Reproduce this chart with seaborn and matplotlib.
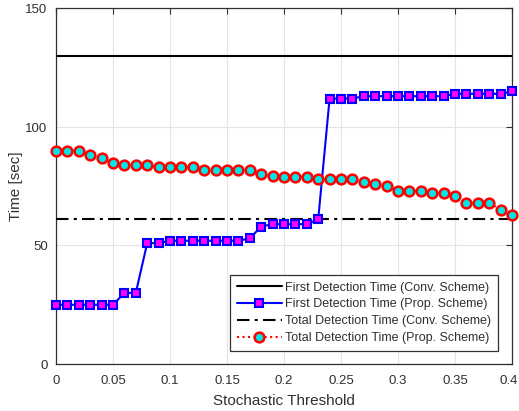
import numpy as np
import pandas as pd
import matplotlib
matplotlib.use("Agg")
import matplotlib.pyplot as plt
import matplotlib.transforms as mtransforms
import seaborn as sns

# Stochastic threshold values (0 to 0.4 in steps of 0.01)
threshold = [round(0.01 * i, 2) for i in range(41)]

# Proposed scheme: first detection time [sec]
first_prop = [25, 25, 25, 25, 25, 25, 30, 30, 51, 51,
              52, 52, 52, 52, 52, 52, 52, 53, 58, 59,
              59, 59, 59, 61, 112, 112, 112, 113, 113, 113,
              113, 113, 113, 113, 113, 114, 114, 114, 114, 114,
              115]

# Proposed scheme: total detection time [sec]
total_prop = [90, 90, 90, 88, 87, 85, 84, 84, 84, 83,
              83, 83, 83, 82, 82, 82, 82, 82, 80, 79.5,
              79, 79, 79, 78, 78, 78, 78, 77, 76, 75,
              73, 73, 73, 72, 72, 71, 68, 68, 68, 65,
              63]

# Conventional scheme (constant over threshold)
first_conv = 130
total_conv = 61

x_ticks = [0, 0.05, 0.1, 0.15, 0.2, 0.25, 0.3, 0.35, 0.4]
x_tick_labels = ["0", "0.05", "0.1", "0.15", "0.2", "0.25", "0.3", "0.35", "0.4"]
y_ticks = [0, 50, 100, 150]

labels = [
    "First Detection Time (Conv. Scheme)",
    "First Detection Time (Prop. Scheme)",
    "Total Detection Time (Conv. Scheme)",
    "Total Detection Time (Prop. Scheme)",
]

sns.set_style("white")
plt.rcParams["font.family"] = ["Liberation Sans", "DejaVu Sans"]

df = pd.DataFrame({"threshold": threshold,
                   "first_prop": first_prop,
                   "total_prop": total_prop})

fig = plt.figure(figsize=(5.19, 4.11), dpi=100)
ax = fig.add_axes([56 / 519, 1 - 364 / 411, 456 / 519, 355.5 / 411])

text_col = "#303030"

ax.axhline(first_conv, color="black", lw=1.5, label=labels[0], zorder=3)

sns.lineplot(data=df, x="threshold", y="first_prop", ax=ax, color="blue",
             lw=1.5, marker="s", markersize=5.5, markerfacecolor="magenta",
             markeredgecolor="blue", markeredgewidth=1.5, label=labels[1],
             zorder=4, clip_on=False)

ax.axhline(total_conv, color="black", lw=1.5, ls=(0, (6, 2.5, 1.5, 2.5)),
           label=labels[2], zorder=3)

sns.lineplot(data=df, x="threshold", y="total_prop", ax=ax, color="red",
             lw=1.5, ls=":", marker="o", markersize=7,
             markerfacecolor="#00e5e5", markeredgecolor="red",
             markeredgewidth=1.8, label=labels[3], zorder=5, clip_on=False)

ax.set_xlim(0, 0.4)
ax.set_ylim(0, 150)
ax.set_xticks(x_ticks)
ax.set_xticklabels(x_tick_labels)
ax.set_yticks(y_ticks)
ax.grid(True, color="#e4e4e4", lw=0.8)
ax.set_axisbelow(True)

ax.tick_params(direction="in", length=4, width=0.8, colors=text_col,
               labelsize=9.5, top=True, right=True, labelcolor=text_col)
ax.tick_params(axis="x", pad=8)
ax.tick_params(axis="y", pad=6)
for s in ax.spines.values():
    s.set_color(text_col)
    s.set_linewidth(0.9)

# keep the last x tick label inside the figure edge
last = ax.get_xticklabels()[-1]
last.set_transform(last.get_transform() +
                   mtransforms.ScaledTranslation(-3 / 100, 0, fig.dpi_scale_trans))

ax.set_xlabel("Stochastic Threshold", fontsize=11, color=text_col, labelpad=5)
ax.set_ylabel("Time [sec]", fontsize=11, color=text_col, labelpad=2)

leg = ax.legend(loc="lower right", bbox_to_anchor=(0.969, 0.037),
                borderaxespad=0, fontsize=9, frameon=True, fancybox=False,
                edgecolor=text_col, framealpha=1, handlelength=3.6,
                handletextpad=0.25, labelspacing=0.38, borderpad=0.55)
leg.get_frame().set_linewidth(0.9)
for t in leg.get_texts():
    t.set_color(text_col)

fig.savefig("out.png", dpi=100)
